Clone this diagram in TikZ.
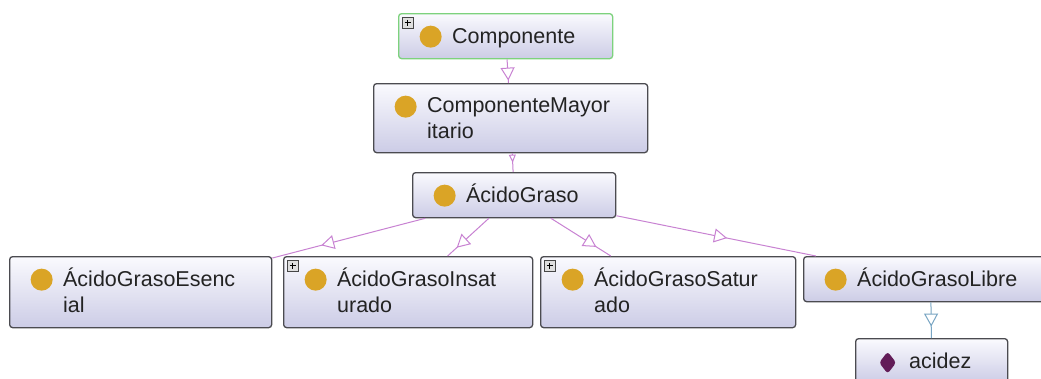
\documentclass[tikz,border=0pt]{standalone}
\usepackage{fontspec}
\setmainfont{Liberation Sans}
\usetikzlibrary{arrows.meta, decorations.markings}

\definecolor{boxtop}{RGB}{250,250,254}
\definecolor{boxbot}{RGB}{204,204,230}
\definecolor{boxedge}{RGB}{75,75,80}
\definecolor{rootedge}{RGB}{125,210,125}
\definecolor{ballc}{RGB}{218,164,38}
\definecolor{propc}{RGB}{98,28,88}
\definecolor{isac}{RGB}{200,130,210}
\definecolor{datac}{RGB}{120,165,195}
\definecolor{txtc}{RGB}{35,35,35}

\newcommand{\clsstrut}{\rule[-4pt]{0pt}{23pt}}

\tikzset{
  cls/.style={draw=boxedge, line width=1.3pt, rounded corners=3pt,
    top color=boxtop, bottom color=boxbot, anchor=north west,
    inner sep=0pt, minimum height=45pt, align=left, text=txtc,
    font=\fontsize{21.5pt}{26pt}\selectfont,
    execute at begin node={\leftskip=53.5pt\relax\clsstrut},
    execute at end node={\clsstrut},
    path picture={\fill[ballc] ([shift={(32pt,-23pt)}]path picture bounding box.north west) circle (11pt);}},
  two/.style={minimum height=71pt},
  root/.style={cls, draw=rootedge},
  prop/.style={cls, path picture={\fill[propc] ([shift={(32pt,-13pt)}]path picture bounding box.north west)
      -- ++(8.5pt,-11pt) -- ++(-8.5pt,-11pt) -- ++(-8.5pt,11pt) -- cycle;}},
  plusbox/.style={fill=gray!25, draw=gray!55!black, line width=0.8pt},
  isa/.style={draw=isac, line width=1pt, postaction={decorate},
    decoration={markings, mark=at position #1 with {\arrow{Triangle[length=13pt, width=14pt, fill=white]}}}},
  isasmall/.style={draw=isac, line width=1pt, postaction={decorate},
    decoration={markings, mark=at position #1 with {\arrow{Triangle[length=8pt, width=7pt, fill=white]}}}}
}

\begin{document}
\begin{tikzpicture}[x=1pt, y=-1pt]
  \useasboundingbox (0,0) rectangle (1041,378);
  \clip (0,0) rectangle (1041,378);
  \fill[white] (0,0) rectangle (1041,378);

  % classes
  \node[root, text width=214pt] (comp) at (398,13) {Componente};
  \node[cls, text width=274pt, minimum height=69pt] (mayor) at (373,83) {ComponenteMayor\\itario};
  \node[cls, text width=203pt] (acido) at (412,172) {ÁcidoGraso};
  \node[cls, two, text width=262pt] (esencial) at (9,256) {ÁcidoGrasoEsenc\\ial};
  \node[cls, two, text width=249pt] (insat) at (283,256) {ÁcidoGrasoInsat\\urado};
  \node[cls, two, text width=255pt] (satur) at (540,256) {ÁcidoGrasoSatur\\ado};
  \node[cls, text width=254pt] (libre) at (803,256) {ÁcidoGrasoLibre};
  \node[prop, text width=152pt, minimum height=44pt] (acidez) at (855,338) {acidez};

  % expand icons
  \foreach \n in {comp, insat, satur} {
    \draw[plusbox] ([shift={(4pt,-4pt)}]\n.north west) rectangle ++(11pt,-11pt);
    \draw[black, line width=1.3pt] ([shift={(9.5pt,-6.5pt)}]\n.north west) -- ++(0pt,-6pt);
    \draw[black, line width=1.3pt] ([shift={(6.5pt,-9.5pt)}]\n.north west) -- ++(6pt,0pt);
  }

  % subclass links
  \draw[isa=0.9] (comp) -- (mayor);
  \draw[isasmall=0.5] (mayor) -- (acido);
  \draw[isa=0.68] (acido) -- (esencial);
  \draw[isa=0.78] (acido) -- (insat);
  \draw[isa=0.76] (acido) -- (satur);
  \draw[isa=0.555] (acido) -- (libre);
  \draw[isa=0.68, draw=datac] (libre) -- (acidez);
\end{tikzpicture}
\end{document}
